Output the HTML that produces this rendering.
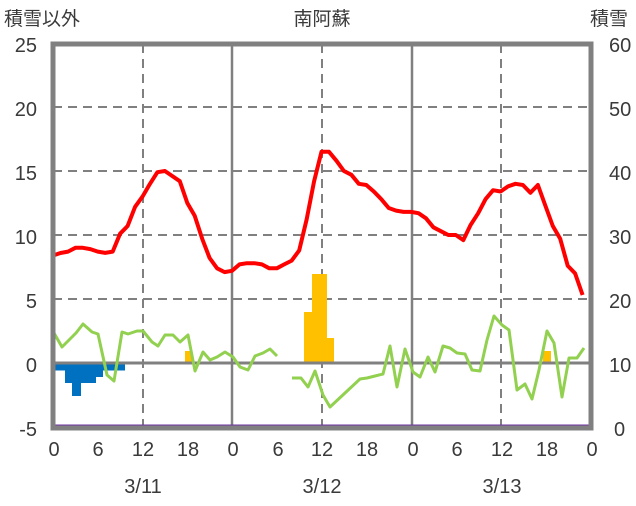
<!DOCTYPE html>
<html><head><meta charset="utf-8"><style>
html,body{margin:0;padding:0;background:#fff;}
svg text{font-family:"Liberation Sans","Noto Sans CJK JP",sans-serif;fill:#3a3a3a;}
</style></head><body>
<svg width="636" height="501" viewBox="0 0 636 501" xmlns="http://www.w3.org/2000/svg">
<rect width="636" height="501" fill="#fff"/>
<g stroke="#808080" stroke-width="2" stroke-dasharray="9,6">
<line x1="53" y1="107" x2="591" y2="107"/>
<line x1="53" y1="171" x2="591" y2="171"/>
<line x1="53" y1="235" x2="591" y2="235"/>
<line x1="53" y1="299" x2="591" y2="299"/>
<line x1="143" y1="44" x2="143" y2="427"/>
<line x1="322" y1="44" x2="322" y2="427"/>
<line x1="501" y1="44" x2="501" y2="427"/>
</g>
<g stroke="#808080" stroke-width="2.5">
<line x1="232" y1="44" x2="232" y2="427"/>
<line x1="412" y1="44" x2="412" y2="427"/>
</g>
<g fill="#0070C0">
<rect x="54" y="363" width="71" height="7.5"/>
<rect x="65" y="363" width="38" height="14"/>
<rect x="65" y="363" width="31" height="20"/>
<rect x="72" y="363" width="9" height="33"/>
</g>
<g fill="#FFC000">
<rect x="185" y="351" width="7" height="12"/>
<rect x="304" y="312" width="8" height="51"/>
<rect x="312" y="274" width="15" height="89"/>
<rect x="327" y="338" width="7" height="25"/>
<rect x="543" y="351" width="8" height="12"/>
</g>
<line x1="53" y1="363" x2="591" y2="363" stroke="#808080" stroke-width="3"/>
<g fill="none" stroke="#92D050" stroke-width="3" stroke-linejoin="round">
<polyline points="54,333 62,347 76,333 83,324 92,332 98,334 107,375 114,381 122,332 128,334 137,331 143,331 152,342 158,346 165,335 173,335 180,342 188,335 195,371 203,352 210,360 217,357 225,352 233,357 240,367 248,370 255,356 263,353 270,349 277,356"/>
<polyline points="292,378 301,378 308,387 315,371 323,395 330,407 345,393 360,379 367,378 375,376 383,374 390,346 397,387 405,349 413,372 420,377 428,357 435,372 443,346 450,348 457,353 465,354 472,370 480,371 487,340 494,316 502,325 509,330 517,390 525,384 532,399 539,370 547,331 554,343 562,397 569,358 577,358 584,348"/>
</g>
<polyline fill="none" stroke="#FF0000" stroke-width="4" stroke-linejoin="round" points="53,255.5 60.5,253 68,251.6 75.4,247.8 82.8,247.8 90.3,249.1 97.8,251.6 105.2,252.9 112.7,251.6 120.1,233.7 127.6,226 135.1,206.8 142.5,196.6 150,183.8 157.4,172.2 164.9,171 172.4,176.1 179.8,181.2 187.3,203 194.7,215.8 202.2,238.8 209.6,258 217.1,268.3 224.6,272.1 232,270.8 239.5,264.4 246.9,263.2 254.4,263.2 261.9,264.4 269.3,268.3 276.8,268.3 284.2,264.4 291.7,260.6 299.2,250.4 306.6,219.6 314.1,181.2 321.5,151.8 329,151.8 336.5,160.8 343.9,171 351.4,174.8 358.8,183.8 366.3,185 373.8,191.5 381.2,199.1 388.7,208 396.1,210.6 403.6,211.9 411,211.9 418.5,213.2 426,218.3 433.4,227.3 440.9,231.2 448.3,235 455.8,235 463.3,240.1 470.7,224.8 478.2,213.2 485.6,199.1 493.1,190.2 500.6,191.5 508,186.4 515.5,183.8 522.9,185 530.4,192.8 537.9,185 545.3,205.5 552.8,226 560.2,238.8 567.7,265.7 575.1,273.4 582.6,295"/>
<line x1="53" y1="426" x2="591" y2="426" stroke="#7030A0" stroke-width="3"/>
<rect x="53" y="44" width="538" height="384" fill="none" stroke="#808080" stroke-width="5"/>
<g font-size="20" text-anchor="end">
<text x="37" y="52">25</text>
<text x="37" y="116">20</text>
<text x="37" y="180">15</text>
<text x="37" y="244">10</text>
<text x="37" y="308">5</text>
<text x="37" y="372">0</text>
<text x="37" y="436">-5</text>
</g>
<g font-size="20" text-anchor="start">
<text x="609" y="52">60</text>
<text x="609" y="116">50</text>
<text x="609" y="180">40</text>
<text x="609" y="244">30</text>
<text x="609" y="308">20</text>
<text x="609" y="372">10</text>
<text x="614" y="436">0</text>
</g>
<g font-size="20" text-anchor="middle">
<text x="54" y="456">0</text><text x="98" y="456">6</text><text x="143" y="456">12</text><text x="188" y="456">18</text>
<text x="233" y="456">0</text><text x="278" y="456">6</text><text x="322" y="456">12</text><text x="367" y="456">18</text>
<text x="413" y="456">0</text><text x="457" y="456">6</text><text x="502" y="456">12</text><text x="547" y="456">18</text>
<text x="592" y="456">0</text>
<text x="143" y="493">3/11</text><text x="322" y="493">3/12</text><text x="502" y="493">3/13</text>
</g>
<g font-size="19">
<text x="4" y="25">積雪以外</text>
<text x="322" y="25" text-anchor="middle">南阿蘇</text>
<text x="590" y="25">積雪</text>
</g>
</svg>
</body></html>
